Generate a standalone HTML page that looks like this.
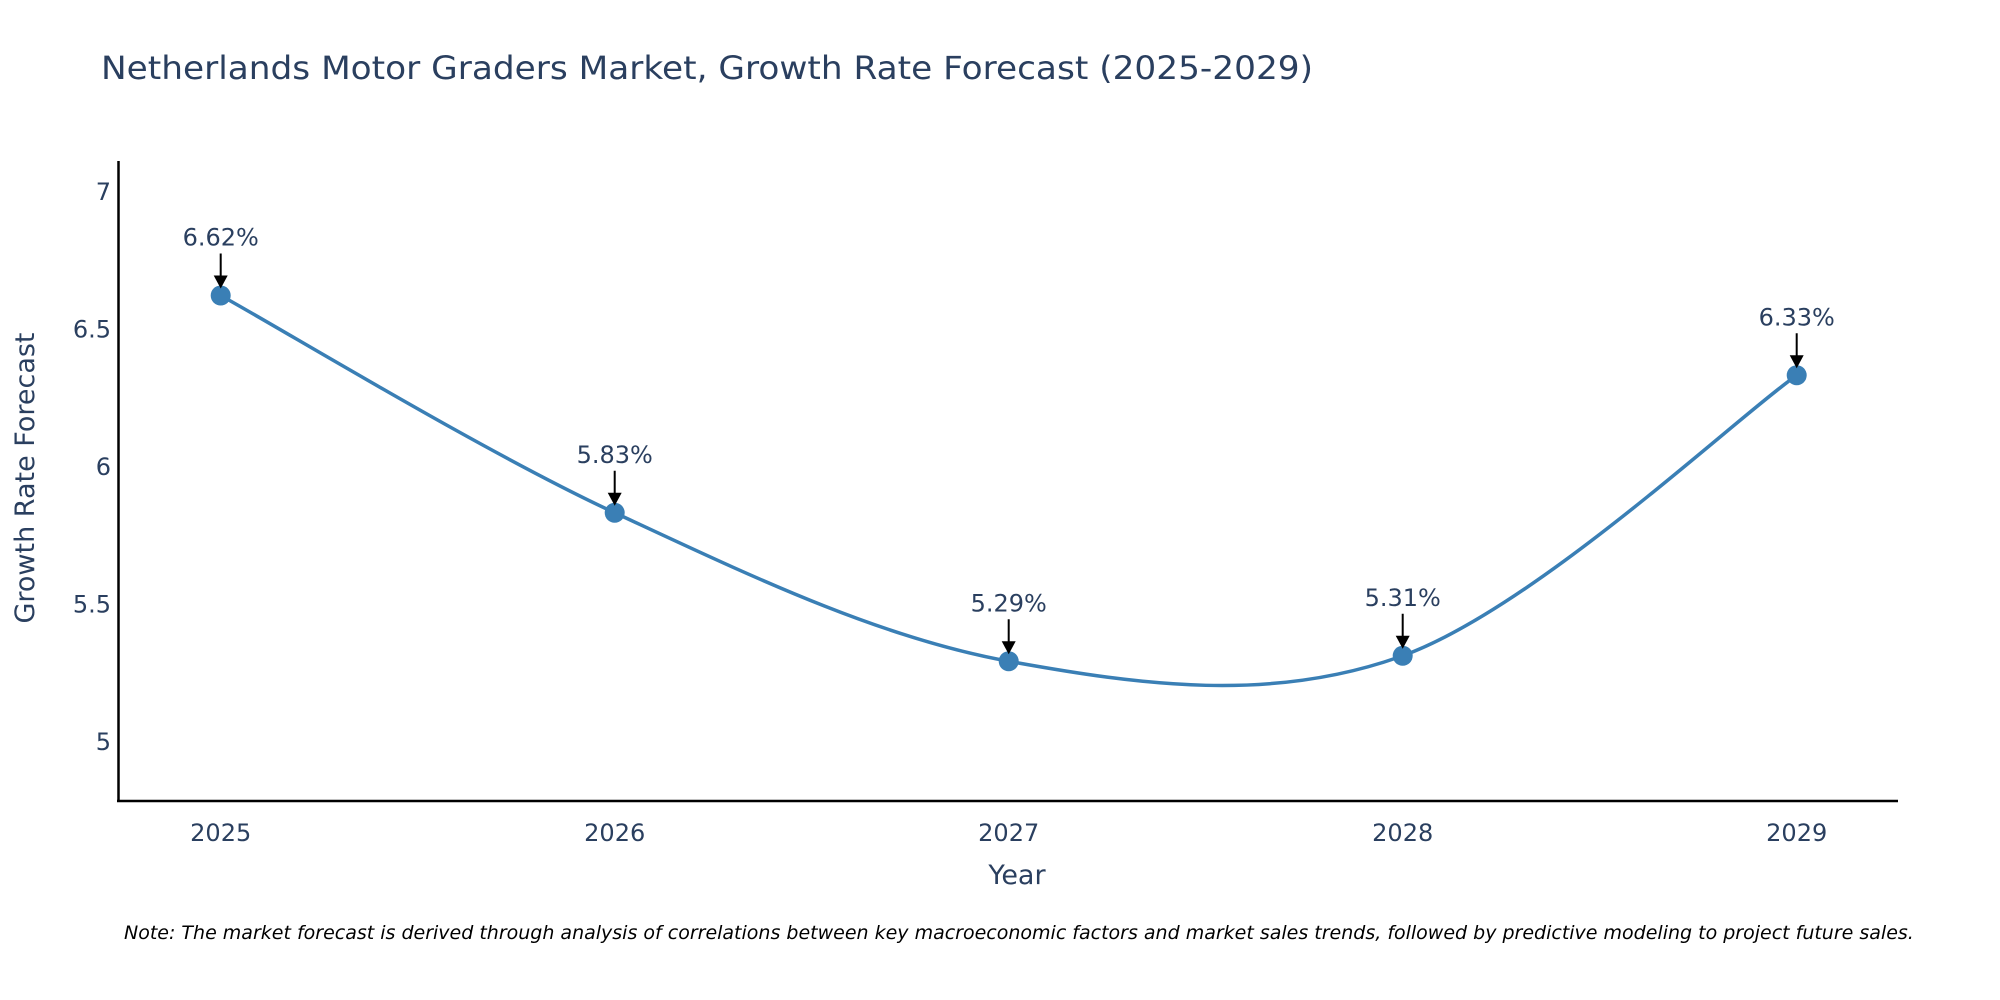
<!DOCTYPE html>
<html><head><meta charset="utf-8"><style>
html,body{margin:0;padding:0;background:#fff;}
svg{display:block;font-family:"DejaVu Sans","Liberation Sans",sans-serif;}
</style></head><body>
<svg id="chart" width="2000" height="1000" viewBox="0 0 2000 1000">
<text x="101" y="79" font-size="32" fill="#2a3f5f" textLength="1212" lengthAdjust="spacingAndGlyphs">Netherlands Motor Graders Market, Growth Rate Forecast (2025-2029)</text>
<g id="yticks"></g>
<g id="xticks"></g>
<path id="line" fill="none" stroke="#3a7fb5" stroke-width="3.5"/>
<g id="points"></g>
<g id="annots"></g>
<line x1="118.5" y1="161" x2="118.5" y2="802" stroke="#000" stroke-width="2.5"/>
<line x1="117" y1="801" x2="1898" y2="801" stroke="#000" stroke-width="2.5"/>
<text x="1017" y="884" font-size="27" fill="#2a3f5f" text-anchor="middle">Year</text>
<text transform="translate(34,478) rotate(-90)" font-size="27" fill="#2a3f5f" text-anchor="middle">Growth Rate Forecast</text>
<text x="124" y="939" font-size="19" font-style="italic" fill="#000">Note: The market forecast is derived through analysis of correlations between key macroeconomic factors and market sales trends, followed by predictive modeling to project future sales.</text>
</svg>
<script>
const years = [2025, 2026, 2027, 2028, 2029];
const rates = [6.62, 5.83, 5.29, 5.31, 6.33];
const yTicks = [5, 5.5, 6, 6.5, 7];
const NS = "http://www.w3.org/2000/svg";
function xs(i){ return 220.7 + i * 394; }
function ys(v){ return 741 - (v - 5) * 275; }
function mk(tag, attrs, parent){ const e=document.createElementNS(NS,tag); for(const k in attrs) e.setAttribute(k,attrs[k]); parent.appendChild(e); return e; }
const yg=document.getElementById('yticks'), xg=document.getElementById('xticks');
yTicks.forEach(t=>{
  const e=mk('text',{x:111,y:ys(t)+9,'font-size':24,fill:'#2a3f5f','text-anchor':'end'},yg);
  
  
  e.textContent=String(t);
});
years.forEach((y,i)=>{
  const e=mk('text',{x:xs(i),y:841,'font-size':24,fill:'#2a3f5f','text-anchor':'middle'},xg);
  
  
  e.textContent=String(y);
});
const P=rates.map((r,i)=>[xs(i),ys(r)]);
let d='M'+P[0][0]+','+P[0][1];
const s=1/6;
for(let i=0;i<P.length-1;i++){
  const p0=P[Math.max(i-1,0)],p1=P[i],p2=P[i+1],p3=P[Math.min(i+2,P.length-1)];
  const c1=[p1[0]+(p2[0]-p0[0])*s,p1[1]+(p2[1]-p0[1])*s];
  const c2=[p2[0]-(p3[0]-p1[0])*s,p2[1]-(p3[1]-p1[1])*s];
  d+=' C'+c1+' '+c2+' '+p2;
}
document.getElementById('line').setAttribute('d',d);
const pg=document.getElementById('points'), ag=document.getElementById('annots');
P.forEach((p,i)=>{
  const c=mk('circle',{cx:p[0],cy:p[1],r:10,fill:'#3a7fb5'},pg);
  
  
  const l=mk('line',{x1:p[0],y1:p[1]-42,x2:p[0],y2:p[1]-18,stroke:'#000','stroke-width':2},ag);
  
  
  const h=mk('path',{d:`M${p[0]-7},${p[1]-20} L${p[0]+7},${p[1]-20} L${p[0]},${p[1]-7} Z`,fill:'#000'},ag);
  
  
  const t=mk('text',{x:p[0],y:p[1]-50,'font-size':24,fill:'#2a3f5f','text-anchor':'middle'},ag);
  
  
  t.textContent=rates[i].toFixed(2)+'%';
});
</script>
</body></html>
